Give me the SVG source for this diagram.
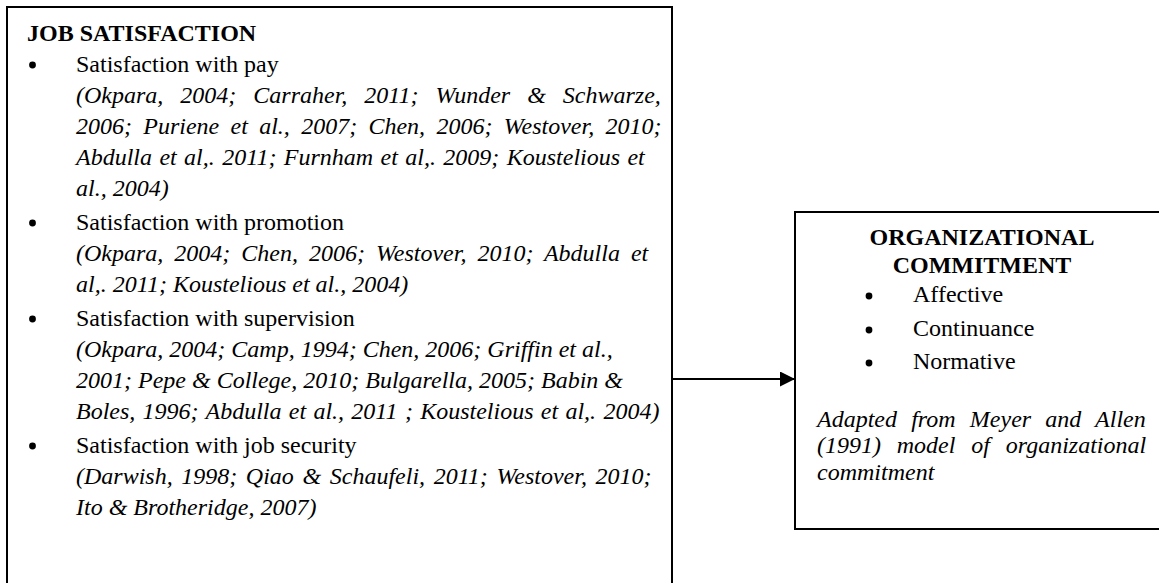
<svg xmlns="http://www.w3.org/2000/svg" width="1159" height="583" viewBox="0 0 1159 583">
<style>
.box{fill:#fff;stroke:#000;stroke-width:2}
.h{font-family:"Liberation Serif","Times New Roman",serif;font-size:24px;font-weight:bold;fill:#000}
.t{font-family:"Liberation Serif","Times New Roman",serif;font-size:24px;fill:#000}
.i{font-family:"Liberation Serif","Times New Roman",serif;font-size:24px;font-style:italic;fill:#000}
.b{fill:#000}
.conn{stroke:#000;stroke-width:2;fill:none}
</style>
<defs>
<marker id="arr" markerUnits="userSpaceOnUse" viewBox="0 0 15 15" markerWidth="15" markerHeight="15" refX="15" refY="7.5" orient="auto">
<path d="M0,0 L15,7.5 L0,15 z" fill="#000"/>
</marker>
</defs>
<rect width="1159" height="583" fill="#fff"/>
<g id="job-satisfaction">
<rect class="box" x="7" y="7" width="665" height="620"/>
<text class="h" x="27" y="41">JOB SATISFACTION</text>
<circle class="b" cx="32.5" cy="65" r="3.4"/>
<text class="t" x="76" y="72">Satisfaction with pay</text>
<text class="i" x="76" y="103" word-spacing="11">(Okpara, 2004; Carraher, 2011; Wunder &amp; Schwarze,</text>
<text class="i" x="76" y="134" word-spacing="5.3">2006; Puriene et al., 2007; Chen, 2006; Westover, 2010;</text>
<text class="i" x="76" y="165" word-spacing="1.4">Abdulla et al,. 2011; Furnham et al,. 2009; Koustelious et</text>
<text class="i" x="76" y="196">al., 2004)</text>
<circle class="b" cx="32.5" cy="223" r="3.4"/>
<text class="t" x="76" y="230">Satisfaction with promotion</text>
<text class="i" x="76" y="261" word-spacing="5">(Okpara, 2004; Chen, 2006; Westover, 2010; Abdulla et</text>
<text class="i" x="76" y="292">al,. 2011; Koustelious et al., 2004)</text>
<circle class="b" cx="32.5" cy="319" r="3.4"/>
<text class="t" x="76" y="326">Satisfaction with supervision</text>
<text class="i" x="76" y="357">(Okpara, 2004; Camp, 1994; Chen, 2006; Griffin et al.,</text>
<text class="i" x="76" y="388">2001; Pepe &amp; College, 2010; Bulgarella, 2005; Babin &amp;</text>
<text class="i" x="76" y="419" word-spacing="1.3">Boles, 1996; Abdulla et al., 2011 ; Koustelious et al,. 2004)</text>
<circle class="b" cx="32.5" cy="446" r="3.4"/>
<text class="t" x="76" y="453">Satisfaction with job security</text>
<text class="i" x="76" y="484" word-spacing="2.6">(Darwish, 1998; Qiao &amp; Schaufeli, 2011; Westover, 2010;</text>
<text class="i" x="76" y="515">Ito &amp; Brotheridge, 2007)</text>
</g>
<g id="organizational-commitment">
<rect class="box" x="795" y="212" width="400" height="317"/>
<text class="h" x="982" y="245" text-anchor="middle">ORGANIZATIONAL</text>
<text class="h" x="982" y="273" text-anchor="middle">COMMITMENT</text>
<circle class="b" cx="869" cy="296" r="3.4"/>
<text class="t" x="913" y="302">Affective</text>
<circle class="b" cx="869" cy="330" r="3.4"/>
<text class="t" x="913" y="336">Continuance</text>
<circle class="b" cx="869" cy="363" r="3.4"/>
<text class="t" x="913" y="369">Normative</text>
<text class="i" x="817" y="427" word-spacing="8.2">Adapted from Meyer and Allen</text>
<text class="i" x="817" y="453" word-spacing="9.8">(1991) model of organizational</text>
<text class="i" x="817" y="480">commitment</text>
</g>
<g id="connectors">
<line class="conn" x1="673" y1="379" x2="795" y2="379" marker-end="url(#arr)"/>
</g>
</svg>
